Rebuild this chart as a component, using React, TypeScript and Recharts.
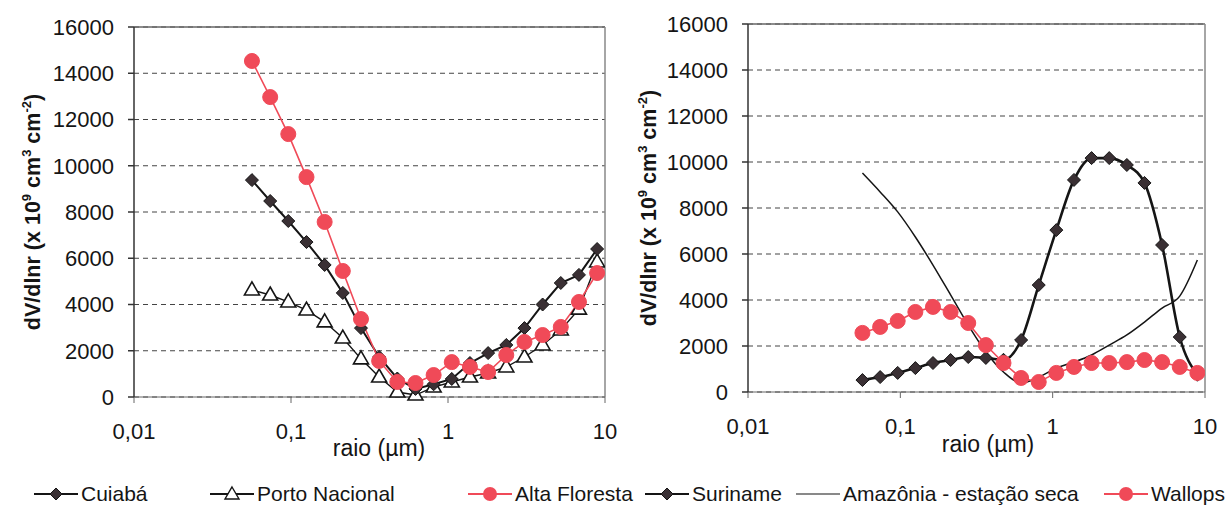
import { LineChart, Line, XAxis, YAxis, CartesianGrid, ReferenceLine } from 'recharts';

// raio (µm) – the same bins are used by both panels
const radii = [0.0564, 0.0737, 0.0961, 0.1255, 0.1638, 0.2138, 0.2791, 0.3643, 0.4755, 0.6207, 0.8101, 1.057, 1.38, 1.801, 2.351, 3.069, 4.006, 5.229, 6.826, 8.91];

// left panel
const cuiaba = [9380, 8475, 7610, 6700, 5710, 4500, 2980, 1730, 800, 350, 550, 780, 1470, 1900, 2250, 2980, 4000, 4930, 5280, 6400];
const portoNacional = [4630, 4410, 4110, 3760, 3250, 2550, 1650, 865, 215, 85, 430, 650, 865, 1040, 1300, 1730, 2250, 2900, 3800, 5840];
const altaFloresta = [14530, 12970, 11370, 9510, 7570, 5450, 3370, 1560, 650, 605, 950, 1510, 1300, 1080, 1815, 2380, 2680, 3030, 4110, 5360];

// right panel
const suriname = [520, 650, 830, 1040, 1260, 1390, 1520, 1480, 1400, 2260, 4650, 7040, 9220, 10170, 10170, 9870, 9090, 6390, 2390, 750];
const amazonia = [9520, 8700, 7830, 6740, 5520, 4220, 2910, 1740, 870, 390, 650, 1040, 1300, 1610, 2040, 2480, 3040, 3650, 4170, 5740];
const wallops = [2570, 2830, 3090, 3480, 3700, 3480, 3000, 2040, 1260, 610, 435, 830, 1090, 1260, 1260, 1300, 1390, 1300, 1090, 830];

const xTicks = [0.01, 0.1, 1, 10];
const yTicks = [0, 2000, 4000, 6000, 8000, 10000, 12000, 14000, 16000];

const leftData = radii.map((r, i) => ({ r, cuiaba: cuiaba[i], porto: portoNacional[i], alta: altaFloresta[i] }));
const rightData = radii.map((r, i) => ({ r, suriname: suriname[i], amazonia: amazonia[i], wallops: wallops[i] }));

const FONT = '"Liberation Sans", Arial, sans-serif';
const RED = '#f04a58';
const INK = '#151515';

const fmtX = (v: number) => String(v).replace('.', ',');

const diamondDot = (size: number) => (p: any) => {
  const { cx, cy, index } = p;
  if (cx == null || cy == null) return <g key={`d${index}`} />;
  const h = size / 2;
  return <path key={`d${index}`} d={`M${cx},${cy - h}L${cx + h},${cy}L${cx},${cy + h}L${cx - h},${cy}Z`} fill="#3a3034" stroke={INK} strokeWidth={1} />;
};

const triangleDot = (p: any) => {
  const { cx, cy, index } = p;
  if (cx == null || cy == null) return <g key={`t${index}`} />;
  return <path key={`t${index}`} d={`M${cx},${cy - 8}L${cx + 7.5},${cy + 5}L${cx - 7.5},${cy + 5}Z`} fill="#fff" stroke={INK} strokeWidth={1.6} />;
};

const circleDot = (p: any) => {
  const { cx, cy, index } = p;
  if (cx == null || cy == null) return <g key={`c${index}`} />;
  return <circle key={`c${index}`} cx={cx} cy={cy} r={7.5} fill={RED} stroke={RED} />;
};

const YTick = ({ x, y, payload }: any) => (
  <text x={x} y={y} dy={7.8} textAnchor="end" fontFamily={FONT} fontSize={22} fill={INK}>
    {payload.value}
  </text>
);

const XTick = ({ x, y, payload }: any) => (
  <text x={x} y={y} dy={15.5} textAnchor="middle" fontFamily={FONT} fontSize={22} fill={INK}>
    {fmtX(payload.value)}
  </text>
);

function YTitle({ px, py }: { px: number; py: number }) {
  return (
    <text x={px} y={py} transform={`rotate(-90 ${px} ${py})`} textAnchor="middle" fontFamily={FONT} fontWeight="bold" fontSize={21.5} fill={INK}>
      dV/dlnr (x 10<tspan dy={-9} fontSize={13}>9</tspan>
      <tspan dy={9}> cm</tspan>
      <tspan dy={-9} fontSize={13}>3</tspan>
      <tspan dy={9}> cm</tspan>
      <tspan dy={-9} fontSize={13}>-2</tspan>
      <tspan dy={9}>)</tspan>
    </text>
  );
}

function XTitle({ px, py }: { px: number; py: number }) {
  return (
    <text x={px} y={py} textAnchor="middle" fontFamily={FONT} fontSize={23} fill={INK}>
      raio (µm)
    </text>
  );
}

function Panel({ data, left, margin, tickMargin, yTitle, xTitle, children }: any) {
  return (
    <div style={{ position: 'absolute', left, top: 0 }}>
      <LineChart width={margin.w} height={470} data={data} margin={{ top: margin.top, right: margin.right, bottom: margin.bottom, left: margin.left }}>
        <CartesianGrid vertical={false} stroke="#444" strokeDasharray="5 4" />
        <XAxis
          type="number"
          dataKey="r"
          scale="log"
          domain={[0.01, 10]}
          ticks={xTicks}
          allowDataOverflow
          tick={<XTick />}
          tickSize={6}
          tickMargin={20}
          height={50}
          stroke="#666"
          label={<XTitle px={xTitle[0]} py={xTitle[1]} />}
        />
        <YAxis
          type="number"
          domain={[0, 16000]}
          ticks={yTicks}
          tick={<YTick />}
          tickSize={6}
          tickMargin={tickMargin}
          width={80}
          stroke="#333"
          strokeWidth={1.5}
          label={<YTitle px={yTitle[0]} py={yTitle[1]} />}
        />
        <ReferenceLine y={16000} stroke="#666" strokeWidth={1.5} />
        <ReferenceLine x={10} stroke="#888" strokeWidth={1.5} />
        {children}
      </LineChart>
    </div>
  );
}

export default function App() {
  const legend = [
    { label: 'Cuiabá', x: 34, icon: 'diamond', color: INK },
    { label: 'Porto Nacional', x: 210, icon: 'triangle', color: INK },
    { label: 'Alta Floresta', x: 468, icon: 'circle', color: RED },
    { label: 'Suriname', x: 645, icon: 'diamond', color: INK },
    { label: 'Amazônia - estação seca', x: 796, icon: 'none', color: INK },
    { label: 'Wallops', x: 1104, icon: 'circle', color: RED },
  ];

  return (
    <div style={{ position: 'absolute', left: 0, top: 0, width: 1229, height: 505, background: '#fff', overflow: 'hidden' }}>
      <Panel data={leftData} left={0} margin={{ w: 620, top: 27, right: 15, bottom: 23, left: 54 }} tickMargin={14} yTitle={[40, 212]} xTitle={[379, 456]}>
        <Line dataKey="porto" stroke={INK} strokeWidth={1.4} dot={triangleDot} isAnimationActive={false} />
        <Line dataKey="cuiaba" stroke={INK} strokeWidth={2} dot={diamondDot(13)} isAnimationActive={false} />
        <Line dataKey="alta" stroke={RED} strokeWidth={1.6} dot={circleDot} isAnimationActive={false} />
      </Panel>
      <Panel data={rightData} left={620} margin={{ w: 609, top: 24, right: 24, bottom: 28, left: 48 }} tickMargin={14} yTitle={[36, 208]} xTitle={[368, 452]}>
        <Line dataKey="amazonia" type="monotone" stroke={INK} strokeWidth={1.5} dot={false} isAnimationActive={false} />
        <Line dataKey="suriname" type="monotone" stroke={INK} strokeWidth={2.6} dot={diamondDot(13)} isAnimationActive={false} />
        <Line dataKey="wallops" stroke={RED} strokeWidth={1.6} dot={circleDot} isAnimationActive={false} />
      </Panel>
      {legend.map((item) => (
        <div key={item.label} style={{ position: 'absolute', left: item.x, top: 483, height: 22, display: 'flex', alignItems: 'center', fontFamily: FONT, fontSize: 21, color: INK, whiteSpace: 'nowrap' }}>
          <svg width={44} height={22} style={{ marginRight: 3 }}>
            <line x1={0} y1={11} x2={44} y2={11} stroke={item.color} strokeWidth={item.icon === 'none' ? 1.2 : 2} />
            {item.icon === 'diamond' && <path d="M22,5L28,11L22,17L16,11Z" fill="#3a3034" stroke={INK} />}
            {item.icon === 'triangle' && <path d="M22,4L29,16L15,16Z" fill="#fff" stroke={INK} strokeWidth={1.4} />}
            {item.icon === 'circle' && <circle cx={22} cy={11} r={7} fill={RED} />}
          </svg>
          <span>{item.label}</span>
        </div>
      ))}
    </div>
  );
}
